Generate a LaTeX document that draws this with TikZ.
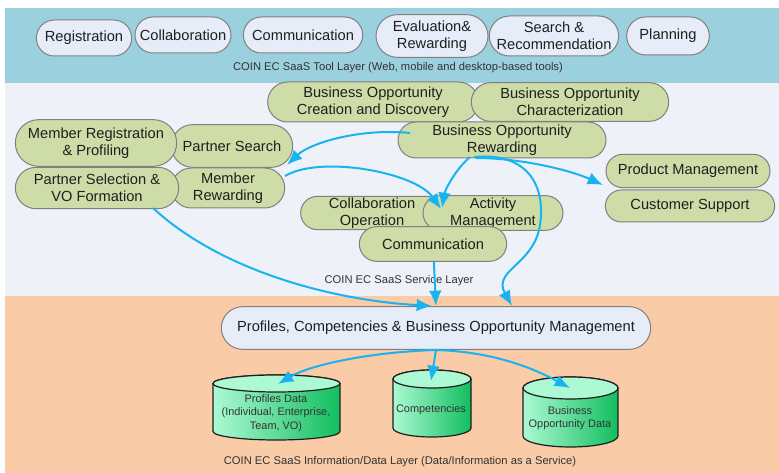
\documentclass[tikz,border=0pt]{standalone}
\usepackage{fontspec}
\setmainfont{Liberation Sans}
\usetikzlibrary{shapes.misc,arrows.meta}

\definecolor{toolbg}{RGB}{155,209,222}
\definecolor{svcbg}{RGB}{238,241,247}
\definecolor{databg}{RGB}{249,203,166}
\definecolor{toolfill}{RGB}{230,236,248}
\definecolor{svcfill}{RGB}{206,220,168}
\definecolor{boxline}{RGB}{128,128,128}
\definecolor{flowblue}{RGB}{24,180,240}
\definecolor{dblight}{RGB}{172,249,212}
\definecolor{dbdark}{RGB}{18,190,94}
\definecolor{dbline}{RGB}{30,30,30}

\tikzset{
  pill/.style={rounded rectangle,draw=boxline,line width=0.75pt,inner sep=1pt,
    align=center,font=\fontsize{11}{12.5}\selectfont,text=black!88},
  toolbox/.style={pill,fill=toolfill},
  svcbox/.style={pill,fill=svcfill},
  flow/.style={->,draw=flowblue,line width=1.5pt},
  layerlabel/.style={font=\fontsize{8.4}{10}\selectfont,text=black!80},
  dbtext/.style={align=center,font=\fontsize{8.2}{10}\selectfont,text=black!80}
}

\begin{document}
\begin{tikzpicture}[x=0.75pt,y=-0.75pt,>={Latex[length=11.5pt,width=9.5pt]}]
\useasboundingbox (0,0) rectangle (779,473);
% layer bands
\fill[toolbg] (5,8) rectangle (779,83);
\fill[svcbg] (5,83) rectangle (779,296);
\fill[databg] (5,296) rectangle (779,473);

% tool layer
\node[toolbox,minimum width=73.5pt,minimum height=27pt] (reg) at (84,38) {Registration};
\node[toolbox,minimum width=74pt,minimum height=27pt] (col) at (183,35) {Collaboration};
\node[toolbox,minimum width=91.5pt,minimum height=27pt] (com) at (303,35) {Communication};
\node[toolbox,minimum width=86pt,minimum height=32pt] (eval) at (432,36) {Evaluation\&\\Rewarding};
\node[toolbox,minimum width=99pt,minimum height=30pt] (srch) at (554,36) {Search \&\\Recommendation};
\node[toolbox,minimum width=64pt,minimum height=28.5pt] (plan) at (668,36) {Planning};
\node[layerlabel] (toollbl) at (398,68) {COIN EC SaaS Tool Layer (Web, mobile and desktop-based tools)};

% service layer
\node[svcbox,minimum width=160pt,minimum height=30pt] (bocd) at (373,102) {Business Opportunity\\Creation and Discovery};
\node[svcbox,minimum width=150pt,minimum height=29pt] (boc) at (570,102) {Business Opportunity\\Characterization};
\node[svcbox,minimum width=158pt,minimum height=27pt] (bor) at (502,140) {Business Opportunity\\Rewarding};
\node[svcbox,minimum width=93pt,minimum height=32pt] (ps) at (232,146) {Partner Search};
\node[svcbox,minimum width=87pt,minimum height=30pt] (mr) at (228,188) {Member\\Rewarding};
\node[svcbox,minimum width=123pt,minimum height=35pt] (mrp) at (96,143) {Member Registration\\\& Profiling};
\node[svcbox,minimum width=124.5pt,minimum height=31pt] (psvo) at (97,188) {Partner Selection \&\\VO Formation};
\node[svcbox,minimum width=125pt,minimum height=25pt] (pm) at (688,171) {Product Management};
\node[svcbox,minimum width=129pt,minimum height=24pt] (cs) at (690,206) {Customer Support};
\node[svcbox,minimum width=109pt,minimum height=25pt] (cop) at (372,213) {Collaboration\\Operation};
\node[svcbox,minimum width=107pt,minimum height=26pt] (am) at (493,213) {Activity\\Management};
\node[svcbox,minimum width=112.5pt,minimum height=26pt] (comm) at (433,244) {Communication};
\node[layerlabel] (svclbl) at (399,281) {COIN EC SaaS Service Layer};

% data layer
\node[toolbox,minimum width=324pt,minimum height=32pt] (pcbom) at (436,328) {Profiles, Competencies \& Business Opportunity Management};

% profiles store
\shadedraw[left color=dblight,right color=dbdark,draw=dbline,line width=0.9pt]
  (213,383.5) -- (213,431.5) arc[start angle=180,end angle=0,x radius=63.5,y radius=8.5]
  -- (340,383.5) arc[start angle=0,end angle=-180,x radius=63.5,y radius=8.5] -- cycle;
\filldraw[fill=dblight,draw=dbline,line width=0.9pt] (276.5,383.5) ellipse [x radius=63.5,y radius=8.5];
\node[dbtext] (prof) at (276,413) {Profiles Data\\(Individual, Enterprise,\\Team, VO)};
% competencies store
\shadedraw[left color=dblight,right color=dbdark,draw=dbline,line width=0.9pt]
  (393,379) -- (393,428) arc[start angle=180,end angle=0,x radius=39,y radius=9]
  -- (471,379) arc[start angle=0,end angle=-180,x radius=39,y radius=9] -- cycle;
\filldraw[fill=dblight,draw=dbline,line width=0.9pt] (432,379) ellipse [x radius=39,y radius=9];
\node[dbtext] (comp) at (431,410) {Competencies};
% opportunity store
\shadedraw[left color=dblight,right color=dbdark,draw=dbline,line width=0.9pt]
  (523,388) -- (523,436) arc[start angle=180,end angle=0,x radius=47.5,y radius=11]
  -- (618,388) arc[start angle=0,end angle=-180,x radius=47.5,y radius=11] -- cycle;
\filldraw[fill=dblight,draw=dbline,line width=0.9pt] (570.5,388) ellipse [x radius=47.5,y radius=11];
\node[dbtext] (bod) at (570,418) {Business\\Opportunity Data};
\node[layerlabel] (datalbl) at (400,462) {COIN EC SaaS Information/Data Layer (Data/Information as a Service)};

% flows
\draw[flow] ([shift={(-92,-7)}]bor.center) .. controls +(-50,-5) and +(23,-22) .. ([shift={(59,-23)}]mr.center);
\draw[flow] ([shift={(57,-12)}]mr.center) .. controls +(35,-21) and +(-26,-37) .. ([shift={(-52,-4)}]am.center);
\draw[flow] ([shift={(-32,17)}]bor.center) .. controls +(-15,13) and +(3,-18) .. ([shift={(-51,-5)}]am.center);
\draw[flow] ([shift={(-26,18)}]bor.center) .. controls +(44,0) and +(-33,-15) .. ([shift={(-85,14)}]pm.center);
\draw[flow] ([shift={(-28,17)}]bor.center) .. controls +(53,-5) and +(6,-40) .. ++(66,68)
  .. controls +(-6,40) and +(-20,-36) .. ([shift={(76,-22)}]pcbom.center);
\draw[flow] (comm) -- ([shift={(0,-22)}]pcbom.center);
\draw[flow] ([shift={(56,20)}]psvo.center) .. controls +(67,62) and +(-102,-6) .. ([shift={(-4,-22)}]pcbom.center);
\draw[flow] ([shift={(0,22)}]pcbom.center) .. controls +(-66,2) and +(32,-19) .. ([shift={(2,-29)}]prof.center);
\draw[flow] ([shift={(0,22)}]pcbom.center) -- ([shift={(0,-29)}]comp.center);
\draw[flow] ([shift={(0,22)}]pcbom.center) .. controls +(64,2) and +(-30,-16) .. ([shift={(0,-30)}]bod.center);
\end{tikzpicture}
\end{document}
